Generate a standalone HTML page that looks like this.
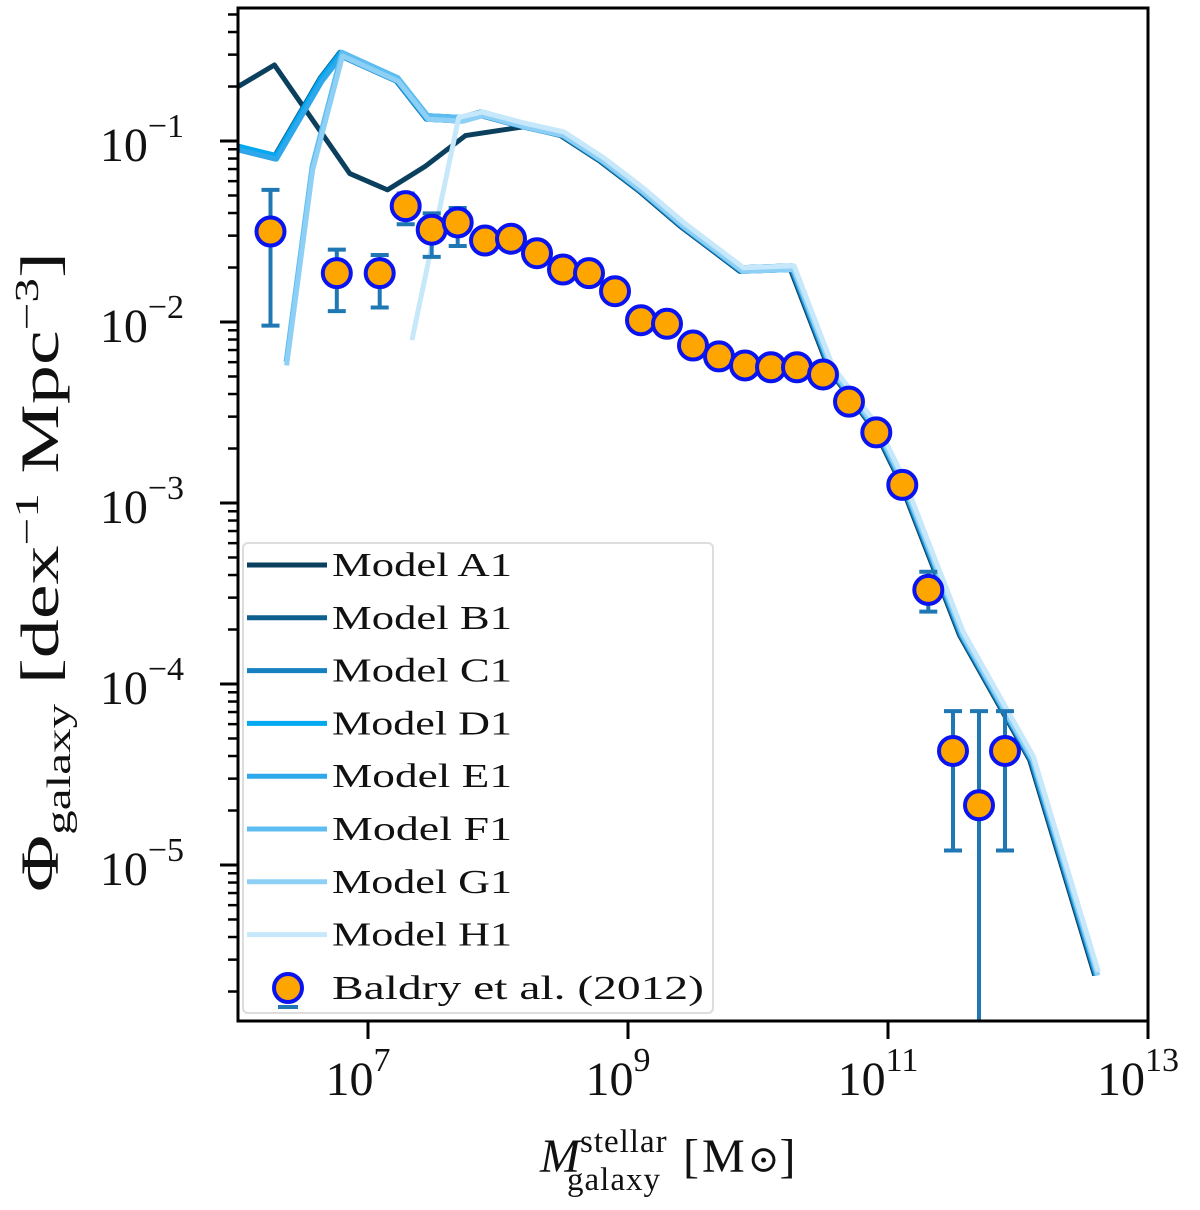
<!DOCTYPE html>
<html><head><meta charset="utf-8">
<style>
body{margin:0;background:#fff;}
svg text{font-family:"Liberation Serif","DejaVu Serif",serif;fill:#111;}
</style></head>
<body>
<svg id="chart" width="1200" height="1205" viewBox="0 0 1200 1205" xmlns="http://www.w3.org/2000/svg">
<defs><clipPath id="clip"><rect x="238" y="8" width="910" height="1013"/></clipPath></defs>
<g id="plot" clip-path="url(#clip)"></g>
<g id="axes"></g>
<g id="legend"></g>
<text transform="translate(58,572) rotate(-90)" text-anchor="middle" font-size="54" textLength="640" lengthAdjust="spacingAndGlyphs">Φ<tspan font-size="34" dy="12">galaxy</tspan><tspan dy="-12"> [dex</tspan><tspan font-size="34" dy="-20">−1</tspan><tspan dy="20"> Mpc</tspan><tspan font-size="34" dy="-20">−3</tspan><tspan dy="20">]</tspan></text>
<text x="540" y="1172" font-size="48"><tspan font-style="italic">M</tspan><tspan font-size="33" dy="-20" letter-spacing="1">stellar</tspan><tspan font-size="33" dx="-100" dy="38" letter-spacing="1">galaxy</tspan><tspan dx="22" dy="-18" letter-spacing="3">[M</tspan><tspan font-size="38">⊙</tspan><tspan>]</tspan></text>
</svg>
<script>
const NS="http://www.w3.org/2000/svg";
// Data (log10 values)
const baldryLogM=[6.25,6.76,7.09,7.29,7.49,7.69,7.90,8.10,8.30,8.50,8.70,8.90,9.10,9.30,9.50,9.70,9.90,10.10,10.30,10.50,10.70,10.91,11.11,11.31,11.50,11.70,11.90];
const baldryLogPhi=[-1.50,-1.73,-1.73,-1.36,-1.49,-1.45,-1.55,-1.54,-1.62,-1.71,-1.73,-1.83,-1.99,-2.01,-2.13,-2.19,-2.24,-2.25,-2.25,-2.29,-2.44,-2.61,-2.90,-3.48,-4.37,-4.67,-4.37];
const baldryErrLo=[-2.02,-1.94,-1.92,-1.46,-1.64,-1.58,-1.60,-1.58,-1.66,-1.75,-1.77,-1.87,-2.03,-2.05,-2.17,-2.23,-2.28,-2.29,-2.29,-2.33,-2.48,-2.65,-2.95,-3.60,-4.92,-7,-4.92];
const baldryErrHi=[-1.27,-1.60,-1.63,-1.29,-1.40,-1.37,-1.50,-1.50,-1.58,-1.67,-1.69,-1.79,-1.95,-1.97,-2.09,-2.15,-2.20,-2.21,-2.21,-2.25,-2.40,-2.57,-2.86,-3.38,-4.15,-4.15,-4.15];
const tailM=[8.48,8.78,9.09,9.40,9.86,10.25,10.55,10.90,11.09,11.55,12.09,12.59];
const tailPhi=[-0.96,-1.10,-1.27,-1.46,-1.71,-1.70,-2.26,-2.59,-2.87,-3.72,-4.41,-5.60];
const a1M=[6.0,6.28,6.86,7.15,7.44,7.75,8.21];
const a1Phi=[-0.69,-0.57,-1.17,-1.26,-1.13,-0.96,-0.91];
const beM=[6.0,6.28,6.63,6.78,7.21,7.44,7.71,7.86,8.17];
const bePhi=[-1.04,-1.09,-0.66,-0.52,-0.66,-0.87,-0.88,-0.85,-0.91];
const fgM=[6.35,6.55,6.78,7.21,7.44,7.71,7.86,8.17];
const fgPhi=[-2.23,-1.15,-0.52,-0.66,-0.87,-0.88,-0.85,-0.91];
const h1M=[7.31,7.67,7.85,8.17];
const h1Phi=[-2.11,-0.88,-0.85,-0.91];
const modelNames=["Model A1","Model B1","Model C1","Model D1","Model E1","Model F1","Model G1","Model H1"];
const modelColors=["#0a3f5e","#0f5f8e","#1580c0","#03a9f0","#2ea8ea","#5dbdf0","#8ed0f5","#c6e8fa"];
const xTicks=[7,9,11,13];
const yTicks=[-1,-2,-3,-4,-5];

const X=v=>238+(v-6)*130;
const Y=v=>141-(v+1)*181;
const plot=document.getElementById('plot'),axes=document.getElementById('axes'),legend=document.getElementById('legend');
function mk(tag,attrs,parent){const e=document.createElementNS(NS,tag);for(const k in attrs)e.setAttribute(k,attrs[k]);parent.appendChild(e);return e;}

const series=[[a1M,a1Phi],[beM,bePhi],[beM,bePhi],[beM,bePhi],[beM,bePhi],[fgM,fgPhi],[fgM,fgPhi],[h1M,h1Phi]];
series.forEach((s,i)=>{
  const m=s[0].concat(tailM),p=s[1].concat(tailPhi);
  const pl=mk('polyline',{points:m.map((v,j)=>X(v+i*0.004)+','+Y(p[j]+(i%2?0.01:-0.01))).join(' '),fill:'none',stroke:modelColors[i],'stroke-width':5,'stroke-linejoin':'round'},plot);
  
  
});
baldryLogM.forEach((m,i)=>{
  const g=mk('g',{},plot);
  
  
  const x=X(m),y1=Y(baldryErrLo[i]),y2=Y(baldryErrHi[i]);
  mk('line',{x1:x,x2:x,y1:y1,y2:y2,stroke:'#1f77b4','stroke-width':4},g);
  mk('line',{x1:x-9,x2:x+9,y1:y1,y2:y1,stroke:'#1f77b4','stroke-width':4},g);
  mk('line',{x1:x-9,x2:x+9,y1:y2,y2:y2,stroke:'#1f77b4','stroke-width':4},g);
  mk('circle',{cx:x,cy:Y(baldryLogPhi[i]),r:14,fill:'#ffa500',stroke:'#0a14f0','stroke-width':4},g);
});
const fr=mk('rect',{x:238,y:8,width:910,height:1013,fill:'none',stroke:'#000','stroke-width':3},axes);


xTicks.forEach(t=>{
  const x=X(t);
  mk('line',{x1:x,x2:x,y1:1021,y2:1039,stroke:'#000','stroke-width':3},axes);
  const tx=mk('text',{x:x-10,y:1095,'text-anchor':'middle','font-size':48},axes);
  
  
  tx.innerHTML='10<tspan font-size="34" dy="-24">'+t+'</tspan>';
});
for(let d=-6;d<=0;d++){for(let k=2;k<=9;k++){const y=Y(d+Math.log10(k));if(y>9&&y<1020)mk('line',{x1:228,x2:238,y1:y,y2:y,stroke:'#000','stroke-width':2.5},axes);}}
yTicks.forEach(t=>{
  const y=Y(t);
  mk('line',{x1:220,x2:238,y1:y,y2:y,stroke:'#000','stroke-width':3},axes);
  const tx=mk('text',{x:184,y:y+20,'text-anchor':'end','font-size':48},axes);
  
  
  tx.innerHTML='10<tspan font-size="34" dy="-24">−'+(-t)+'</tspan>';
});
const lb=mk('rect',{x:243,y:543,width:470,height:470,rx:5,fill:'#fff','fill-opacity':0.85,stroke:'#ddd','stroke-width':2},legend);


modelNames.forEach((n,i)=>{
  const y=565+i*52.8;
  const g=mk('g',{},legend);
  
  
  mk('line',{x1:247,x2:327,y1:y,y2:y,stroke:modelColors[i],'stroke-width':5},g);
  const t=mk('text',{x:332,y:y+11,'font-size':34,textLength:180,lengthAdjust:'spacingAndGlyphs'},g);t.textContent=n;
});
const gb=mk('g',{},legend);


mk('line',{x1:278,x2:298,y1:1007,y2:1007,stroke:'#1f77b4','stroke-width':4},gb);
mk('circle',{cx:288,cy:988,r:14,fill:'#ffa500',stroke:'#0a14f0','stroke-width':4},gb);
const tb=mk('text',{x:332,y:999,'font-size':34,textLength:372,lengthAdjust:'spacingAndGlyphs'},gb);tb.textContent='Baldry et al. (2012)';
</script>
</body></html>
